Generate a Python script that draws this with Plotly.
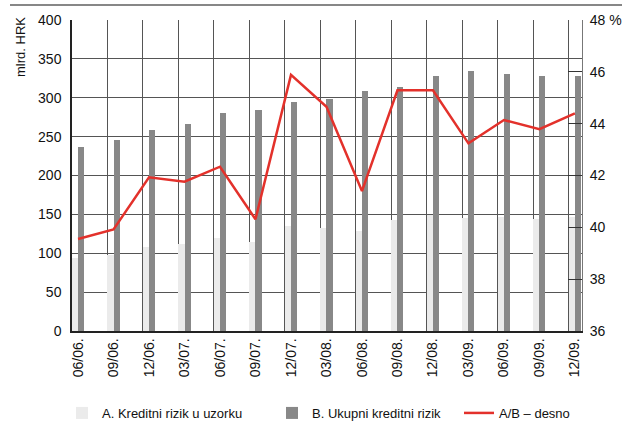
import plotly.graph_objects as go

categories = ["06/06.", "09/06.", "12/06.", "03/07.", "06/07.", "09/07.", "12/07.", "03/08.",
              "06/08.", "09/08.", "12/08.", "03/09.", "06/09.", "09/09.", "12/09."]
credit_risk_sample = [94, 98, 108, 112, 119, 115, 135, 133, 128, 143, 149, 145, 146, 144, 146]
total_credit_risk = [237, 246, 259, 266, 281, 284, 294, 298, 309, 314, 328, 335, 330, 328, 328]
ratio_ab = [39.55, 39.92, 41.93, 41.76, 42.34, 40.31, 45.88, 44.65, 41.40, 45.29, 45.29,
            43.24, 44.14, 43.79, 44.40]
left_ticks = [0, 50, 100, 150, 200, 250, 300, 350, 400]
right_ticks = [36, 38, 40, 42, 44, 46, 48]
right_ticktext = ["36", "38", "40", "42", "44", "46", "48 %"]

FONT = "Liberation Sans Narrow, Arial Narrow, Liberation Sans, Arial, sans-serif"
n = len(categories)
slot = list(range(n))
BW = 0.17
label_pos = [i + BW for i in slot]

fig = go.Figure()
fig.add_trace(go.Bar(x=slot, y=credit_risk_sample, width=BW, offset=0,
                     marker=dict(color="#ebebeb", line=dict(width=0)),
                     name="A. Kreditni rizik u uzorku", legend="legend"))
fig.add_trace(go.Bar(x=slot, y=total_credit_risk, width=BW, offset=BW,
                     marker=dict(color="#888888", line=dict(width=0)),
                     name="B. Ukupni kreditni rizik", legend="legend2"))
fig.add_trace(go.Scatter(x=label_pos, y=ratio_ab, yaxis="y2", mode="lines",
                         line=dict(color="#e3312b", width=2.5),
                         name="A/B – desno", legend="legend3"))

W, H = 624, 424
L, R, T, B = 72, 42, 20, 93
PW, PH = W - L - R, H - T - B
leg_common = dict(orientation="h", xref="container", yref="container", xanchor="left",
                  yanchor="middle", y=0.026, font=dict(size=13), bgcolor="rgba(0,0,0,0)")

top_y0 = 1 + (T - 5.5) / PH
top_y1 = 1 + (T - 4.5) / PH

fig.update_layout(
    width=W, height=H,
    margin=dict(l=L, r=R, t=T, b=B, autoexpand=False),
    paper_bgcolor="white", plot_bgcolor="white",
    barmode="overlay", bargap=0,
    font=dict(family=FONT, size=14, color="#111"),
    showlegend=True,
    legend=dict(x=62 / W, **leg_common),
    legend2=dict(x=272 / W, **leg_common),
    legend3=dict(x=459 / W, **leg_common),
    xaxis=dict(range=[0, 14.37], tickmode="array", tickvals=label_pos, ticktext=categories,
               tickangle=-90, showgrid=False, zeroline=False, ticks="", automargin=False,
               showline=True, linecolor="#222", linewidth=1.5,
               minor=dict(tick0=0, dtick=1, showgrid=True, gridcolor="#555", gridwidth=1)),
    yaxis=dict(range=[0, 400], tickvals=left_ticks, showgrid=True, gridcolor="#555",
               gridwidth=1, zeroline=False, showline=True, linecolor="#222", linewidth=1.5,
               ticks="", ticklen=0, automargin=False, ticklabelstandoff=6),
    yaxis2=dict(range=[36, 48], tickvals=right_ticks, ticktext=right_ticktext,
                overlaying="y", side="right", showgrid=False, zeroline=False, automargin=False,
                showline=True, linecolor="#777", linewidth=1,
                ticks="inside", ticklen=14, tickcolor="#333", ticklabelstandoff=4),
    annotations=[dict(text="mlrd. HRK", textangle=-90, xref="paper", yref="paper",
                      x=(21 - L) / PW, y=1 + (T - 15) / PH, xanchor="center", yanchor="top",
                      showarrow=False, font=dict(size=13))],
    shapes=[dict(type="rect", xref="paper", yref="paper", layer="above",
                 x0=(10 - L) / PW, x1=(622 - L) / PW, y0=top_y0, y1=top_y1,
                 fillcolor="#111", line=dict(width=0))],
)

fig.write_html("out.html", config={"displayModeBar": False},
               post_script="document.body.style.margin='0';")
